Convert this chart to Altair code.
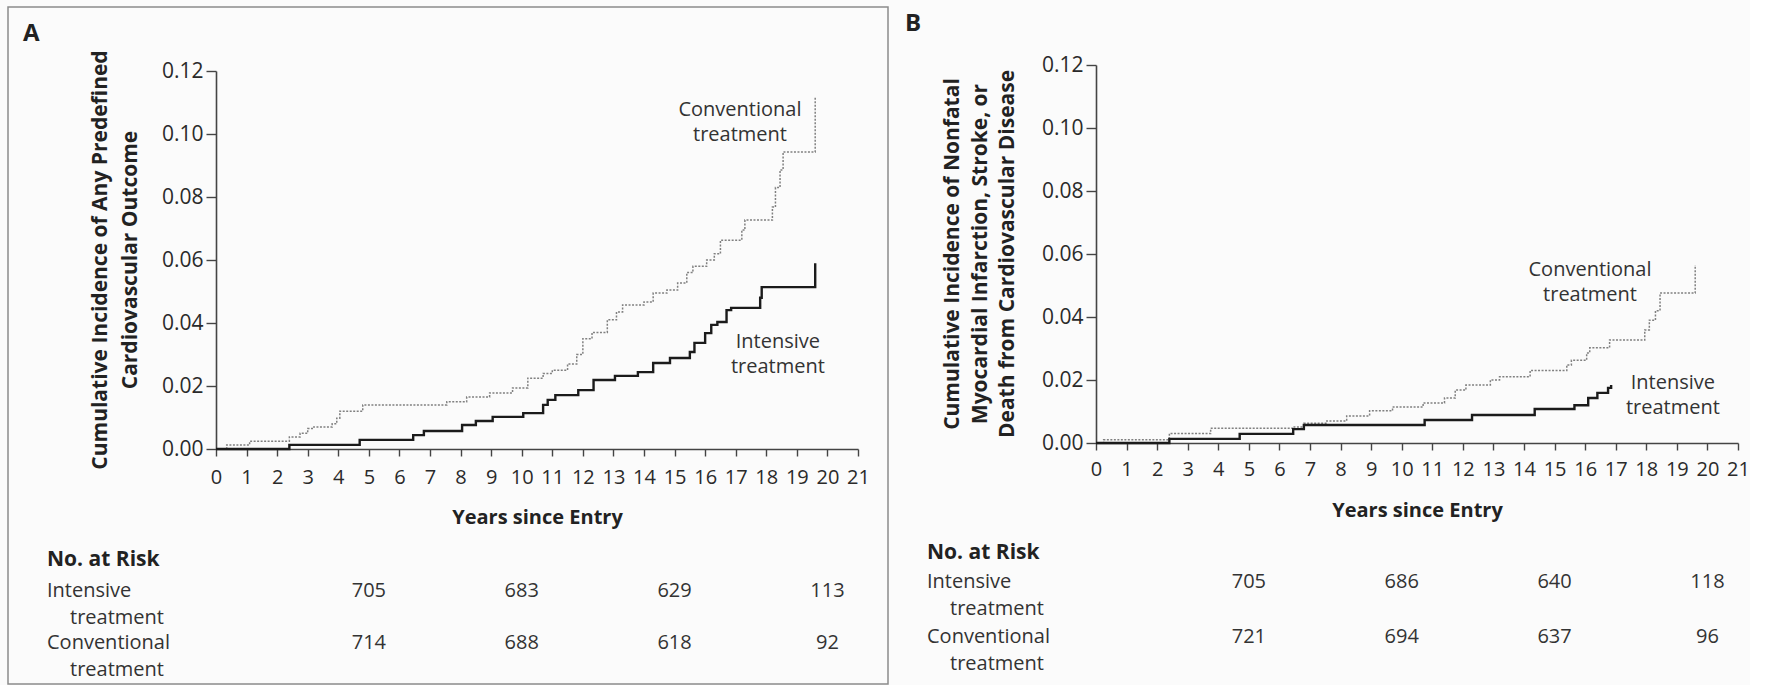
import altair as alt
import pandas as pd

# ---- Panel A: any predefined cardiovascular outcome (cumulative incidence, step curves)
a_conv_t = [0, 0.35, 1.1, 2.4, 2.75, 3.0, 3.2, 3.8, 3.95, 4.05, 4.8, 7.55, 8.2, 8.95, 9.7,
            10.2, 10.7, 11.0, 11.5, 11.8, 12.0, 12.3, 12.8, 13.1, 13.3, 14.0, 14.3, 14.75,
            15.1, 15.4, 15.6, 16.05, 16.3, 16.5, 17.2, 17.3, 18.2, 18.3, 18.45, 18.55, 19.6]
a_conv_v = [0, 0.0013, 0.0025, 0.0038, 0.005, 0.0065, 0.007, 0.008, 0.0098, 0.012, 0.014,
            0.015, 0.0165, 0.0178, 0.0194, 0.0225, 0.024, 0.025, 0.027, 0.030, 0.035, 0.037,
            0.041, 0.0435, 0.0457, 0.0467, 0.0495, 0.0505, 0.0527, 0.056, 0.058, 0.060, 0.062,
            0.0663, 0.0695, 0.0727, 0.0768, 0.083, 0.0886, 0.0943, 0.112]
a_int_t = [0, 2.4, 4.7, 6.45, 6.8, 8.05, 8.5, 9.05, 10.05, 10.7, 10.85, 11.1, 11.85, 12.35,
           13.05, 13.8, 14.3, 14.85, 15.5, 15.65, 16.0, 16.2, 16.4, 16.7, 16.85, 17.8, 17.85, 19.6]
a_int_v = [0, 0.0013, 0.0029, 0.0044, 0.0057, 0.0076, 0.0089, 0.0102, 0.0114, 0.014, 0.0156,
           0.0171, 0.0187, 0.0219, 0.0232, 0.0244, 0.0273, 0.0289, 0.0308, 0.0337, 0.0368,
           0.0394, 0.0403, 0.0441, 0.0448, 0.048, 0.0514, 0.059]

# ---- Panel B: nonfatal MI, stroke, or death from cardiovascular disease
b_conv_t = [0, 0.25, 2.4, 3.75, 6.45, 6.8, 7.55, 8.2, 8.95, 9.7, 10.7, 11.4, 11.75, 12.1,
            12.9, 13.2, 14.2, 15.4, 15.55, 16.05, 16.15, 16.8, 17.95, 18.1, 18.3, 18.45, 19.6]
b_conv_v = [0, 0.001, 0.003, 0.0047, 0.0051, 0.0063, 0.007, 0.0086, 0.0102, 0.0114, 0.0127,
            0.0143, 0.0168, 0.0184, 0.020, 0.021, 0.023, 0.0248, 0.0263, 0.0286, 0.0302,
            0.0327, 0.0359, 0.039, 0.042, 0.0476, 0.0565]
b_int_t = [0, 2.4, 4.7, 6.45, 6.8, 10.75, 12.3, 14.35, 15.65, 16.1, 16.4, 16.75, 16.85]
b_int_v = [0, 0.0013, 0.0029, 0.0044, 0.0057, 0.0073, 0.0089, 0.0108, 0.012, 0.0143,
           0.0159, 0.0175, 0.0184]

# ---- Numbers at risk
risk_years = [5, 10, 15, 20]
a_risk_int = [705, 683, 629, 113]
a_risk_conv = [714, 688, 618, 92]
b_risk_int = [705, 686, 640, 118]
b_risk_conv = [721, 694, 637, 96]

# ---- Axis ticks and titles
x_ticks = list(range(0, 22))
y_ticks = [0.0, 0.02, 0.04, 0.06, 0.08, 0.10, 0.12]
a_y_title = "Cumulative Incidence of Any Predefined\nCardiovascular Outcome"
b_y_title = ("Cumulative Incidence of Nonfatal\nMyocardial Infarction, Stroke, or\n"
             "Death from Cardiovascular Disease")
x_title = "Years since Entry"

# curve labels: text, year, incidence at the first line
a_notes = (["Conventional\ntreatment", "Intensive\ntreatment"], [17.14, 18.38], [0.1076, 0.034])
b_notes = (["Conventional\ntreatment", "Intensive\ntreatment"], [16.16, 18.87], [0.0549, 0.019])

W = 642
FONT = "Open Sans"
INK = "#2a2a2a"


def panel(letter, conv_t, conv_v, int_t, int_v, y_title, lay, notes, risk_int, risk_conv):
    top = lay["top"]          # offset of the 0.12 tick inside the panel
    h = lay["h"]              # panel height (x axis sits at the bottom)
    x = alt.X("t:Q", scale=alt.Scale(domain=[0, 21], nice=False),
              axis=alt.Axis(values=x_ticks, title=x_title, format="d", labelOverlap=False,
                            labelFlush=False, tickSize=7, labelPadding=lay["xpad"],
                            labelFontSize=20, labelColor=INK, titleFontSize=20,
                            titleFontWeight="bold", titleColor="#222", titleY=lay["xtitle"],
                            titleBaseline="middle", domainColor="#444", tickColor="#444",
                            domainWidth=1.6, tickWidth=1.4, grid=False))
    y = alt.Y("v:Q", scale=alt.Scale(domain=[0, 0.12], nice=False, range=[h, top]),
              axis=alt.Axis(values=y_ticks, format=".2f", title=None, labelOverlap=False,
                            labelFlush=False, tickSize=10, labelPadding=3, labelFontSize=21,
                            labelColor=INK, domainColor="#444", tickColor="#444",
                            domainWidth=1.6, tickWidth=1.4, grid=False))

    conv_df = pd.DataFrame({"t": conv_t, "v": conv_v})
    int_df = pd.DataFrame({"t": int_t, "v": int_v})

    conv = alt.Chart(conv_df).mark_line(
        interpolate="step-after", color="#808080", strokeWidth=1.5, strokeDash=[2, 1.5]
    ).encode(x=x, y=y)
    inten = alt.Chart(int_df).mark_line(
        interpolate="step-after", color="#1b1b1b", strokeWidth=2.4
    ).encode(x=x, y=y)

    notes_df = pd.DataFrame({"label": notes[0], "t": notes[1], "v": notes[2]})
    note_text = alt.Chart(notes_df).mark_text(
        lineBreak="\n", lineHeight=25, align="center", baseline="middle",
        fontSize=20, color="#333", font=FONT
    ).encode(x=x, y=y, text="label:N")

    head = pd.DataFrame({"h": ["No. at Risk"], "p": [letter], "title": [y_title]})

    # rotated, multi-line y-axis title
    y_title_text = alt.Chart(head).mark_text(
        angle=270, lineBreak="\n", lineHeight=lay["tlh"], fontSize=21, fontWeight="bold",
        color="#222", font=FONT, align="center", baseline="middle"
    ).encode(x=alt.value(lay["tx"]), y=alt.value(lay["ty"]), text="title:N")

    layers = [conv, inten, note_text, y_title_text]

    # numbers at risk table under the axis
    rows = lay["rows"]
    for arm, counts in (("Intensive", risk_int), ("Conventional", risk_conv)):
        df = pd.DataFrame({"t": risk_years, "n": counts})
        layers.append(
            alt.Chart(df).mark_text(fontSize=20, color="#333", font=FONT,
                                    align="center", baseline="middle")
            .encode(x=x, y=alt.value(rows[arm]), text="n:Q")
        )
        lab = pd.DataFrame({"line1": [arm], "line2": ["treatment"]})
        layers.append(
            alt.Chart(lab).mark_text(fontSize=20, color="#333", font=FONT,
                                     align="left", baseline="middle")
            .encode(x=alt.value(-169), y=alt.value(rows[arm]), text="line1:N")
        )
        layers.append(
            alt.Chart(lab).mark_text(fontSize=20, color="#333", font=FONT,
                                     align="left", baseline="middle")
            .encode(x=alt.value(-146), y=alt.value(rows[arm] + 27), text="line2:N")
        )

    layers.append(
        alt.Chart(head).mark_text(fontSize=21, fontWeight="bold", color="#222", font=FONT,
                                  align="left", baseline="middle")
        .encode(x=alt.value(-169), y=alt.value(rows["head"]), text="h:N")
    )
    layers.append(
        alt.Chart(head).mark_text(fontSize=24, fontWeight="bold", color="#222", font=FONT,
                                  align="left", baseline="middle")
        .encode(x=alt.value(lay["lx"]), y=alt.value(lay["ly"]), text="p:N")
    )
    if lay.get("frame"):
        fx1, fx2, fy1, fy2 = lay["frame"]
        layers.insert(0,
            alt.Chart(head).mark_rect(filled=False, stroke="#8c8c8c", strokeWidth=1.5)
            .encode(x=alt.value(fx1), x2=alt.value(fx2), y=alt.value(fy1), y2=alt.value(fy2))
        )
    return alt.layer(*layers).properties(width=W, height=h)


lay_a = dict(top=6, h=384, xpad=11, xtitle=68, tx=-115, ty=195, tlh=30,
             rows={"head": 495, "Intensive": 526, "Conventional": 578},
             lx=-193, ly=-31, frame=(-208, 672, -58, 619))
lay_b = dict(top=0, h=378, xpad=9, xtitle=67, tx=-143, ty=189, tlh=27.5,
             rows={"head": 488, "Intensive": 517, "Conventional": 572},
             lx=-191, ly=-41)

panel_a = panel("A", a_conv_t, a_conv_v, a_int_t, a_int_v, a_y_title, lay_a, a_notes,
                a_risk_int, a_risk_conv)
panel_b = panel("B", b_conv_t, b_conv_v, b_int_t, b_int_v, b_y_title, lay_b, b_notes,
                b_risk_int, b_risk_conv)

chart = alt.hconcat(panel_a, panel_b, spacing=238, bounds="flush").properties(
    padding={"left": 7, "top": 6, "right": 0, "bottom": 0},
    background="#fbfbfb",
).configure(font=FONT).configure_view(strokeWidth=0).configure_axis(
    labelFont=FONT, titleFont=FONT
)

chart.save("out.html", embed_options={"renderer": "svg", "actions": False})
